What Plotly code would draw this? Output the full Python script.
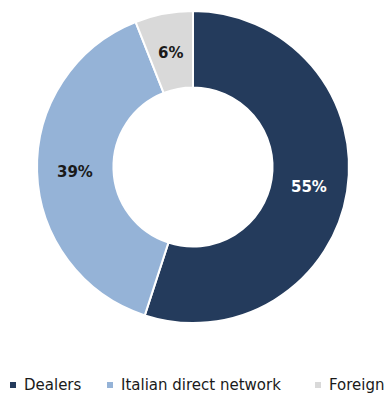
import math
import plotly.graph_objects as go

# Sales split by channel
channels = ["Dealers", "Italian direct network", "Foreign"]
shares = [55, 39, 6]
colors = ["#243b5c", "#95b3d7", "#d9d9d9"]
label_colors = ["#ffffff", "#1a1a1a", "#1a1a1a"]

W, H = 386, 400
dom_y = [0.1925, 0.9725]
hole = 0.51

fig = go.Figure(
    go.Pie(
        labels=channels,
        values=shares,
        hole=hole,
        sort=False,
        direction="clockwise",
        rotation=0,
        marker=dict(colors=colors, line=dict(color="#ffffff", width=2)),
        textinfo="none",
        domain=dict(x=[0, 1], y=dom_y),
        hoverinfo="label+percent",
        showlegend=False,
    )
)

# Percentage labels centred in the ring, half-way between hole and rim
cx = 0.5 * W
cy = (1 - sum(dom_y) / 2) * H
r_out = (dom_y[1] - dom_y[0]) * H / 2
r_mid = r_out * (1 + hole) / 2
total = sum(shares)
start = 0.0
for val, tc in zip(shares, label_colors):
    mid = (start + val / 2) / total * 2 * math.pi
    start += val
    px = cx + r_mid * math.sin(mid)
    py = cy - r_mid * math.cos(mid) + 1.5
    fig.add_annotation(
        text=f"{val}%",
        xref="paper", yref="paper",
        x=px / W, y=1 - py / H,
        xanchor="center", yanchor="middle",
        showarrow=False,
        font=dict(family="DejaVu Sans", size=15, color=tc, weight="bold"),
    )

# Legend row along the bottom: small colour squares followed by the channel names
legend_x = [10, 107, 315]     # left edge of each square, px
legend_y = 385                # vertical centre of the row, px from top
sq = 6
for name, col, x0 in zip(channels, colors, legend_x):
    fig.add_shape(
        type="rect",
        xref="paper", yref="paper",
        x0=x0 / W, x1=(x0 + sq) / W,
        y0=1 - (legend_y + sq / 2) / H, y1=1 - (legend_y - sq / 2) / H,
        fillcolor=col, line=dict(width=0),
    )
    fig.add_annotation(
        text=name,
        xref="paper", yref="paper",
        x=(x0 + sq + 6) / W, y=1 - legend_y / H,
        xanchor="left", yanchor="middle",
        showarrow=False,
        font=dict(family="DejaVu Sans", size=15, color="#1a1a1a"),
    )

fig.update_layout(
    width=W,
    height=H,
    margin=dict(l=0, r=0, t=0, b=0),
    paper_bgcolor="#ffffff",
    plot_bgcolor="#ffffff",
)

fig.write_html("out.html")
